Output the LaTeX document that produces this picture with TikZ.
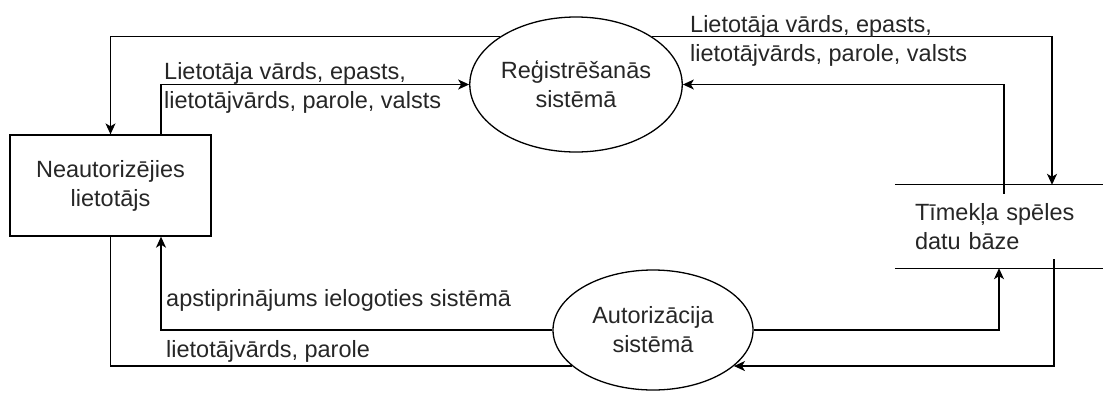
\documentclass[tikz,border=0pt]{standalone}
\usepackage{fontspec}
\setmainfont{Liberation Sans}
\usetikzlibrary{shapes.geometric,arrows.meta}
\begin{document}
\begin{tikzpicture}[x=1pt,y=-1pt,
  every node/.style={font=\fontsize{23.5}{29}\selectfont, text=black!85, inner sep=0pt},
  actor/.style={draw, rectangle, line width=1.3pt, minimum width=201pt, minimum height=101pt, align=center},
  proc/.style={draw, ellipse, line width=1.3pt, align=center},
  store/.style={rectangle, minimum height=83pt, text width=168pt, inner xsep=20pt, align=left},
  flowline/.style={draw=black, line width=1.3pt},
  flowarrow/.style={flowline, -{Stealth[length=11pt,width=10pt,inset=3pt]}},
  flowlabel/.style={align=left}]
\useasboundingbox (0,0) rectangle (1103,392);

% external entity
\node[actor] (user) at (110.5,185.5) {Neautorizējies\\lietotājs};
% processes
\node[proc, minimum width=198pt, minimum height=135pt] (reg) at (576,84.5) {Reģistrēšanās\\sistēmā};
\node[proc, minimum width=200pt, minimum height=120pt] (auth) at (653,330) {Autorizācija\\sistēmā};
% data store: open rectangle with top and bottom lines
\node[store] (db) at (999,226.5) {Tīmekļa spēles\\datu bāze};
\draw[flowline] (db.north west) -- (db.north east);
\draw[flowline] (db.south west) -- (db.south east);

% registration flows
\draw[flowarrow] (reg.148) -| (user.north);
\draw[flowarrow] ([xshift=50.5pt]user.north) |- (reg.west);
\node[flowlabel, anchor=west] (lblreg) at (164,88) {Lietotāja vārds, epasts,\\lietotājvārds, parole, valsts};
\draw[flowarrow] (reg.32) -| ([xshift=53pt]db.north);
\node[flowlabel, anchor=west] (lbldb) at (690,41) {Lietotāja vārds, epasts,\\lietotājvārds, parole, valsts};
\draw[flowarrow] ([xshift=5pt,yshift=-9pt]db.north) |- (reg.east);

% authorisation flows
\draw[flowarrow] (auth.east) -| (db.south);
\draw[flowarrow] ([xshift=55pt,yshift=9pt]db.south) |- (auth.-24.5);
\draw[flowarrow] (auth.west) -| ([xshift=50.5pt]user.south);
\node[anchor=base west] (lblok) at (166,306) {apstiprinājums ielogoties sistēmā};
\draw[flowline] (user.south) |- (auth.204.5);
\node[anchor=base west] (lbllogin) at (166,357) {lietotājvārds, parole};
\end{tikzpicture}
\end{document}
